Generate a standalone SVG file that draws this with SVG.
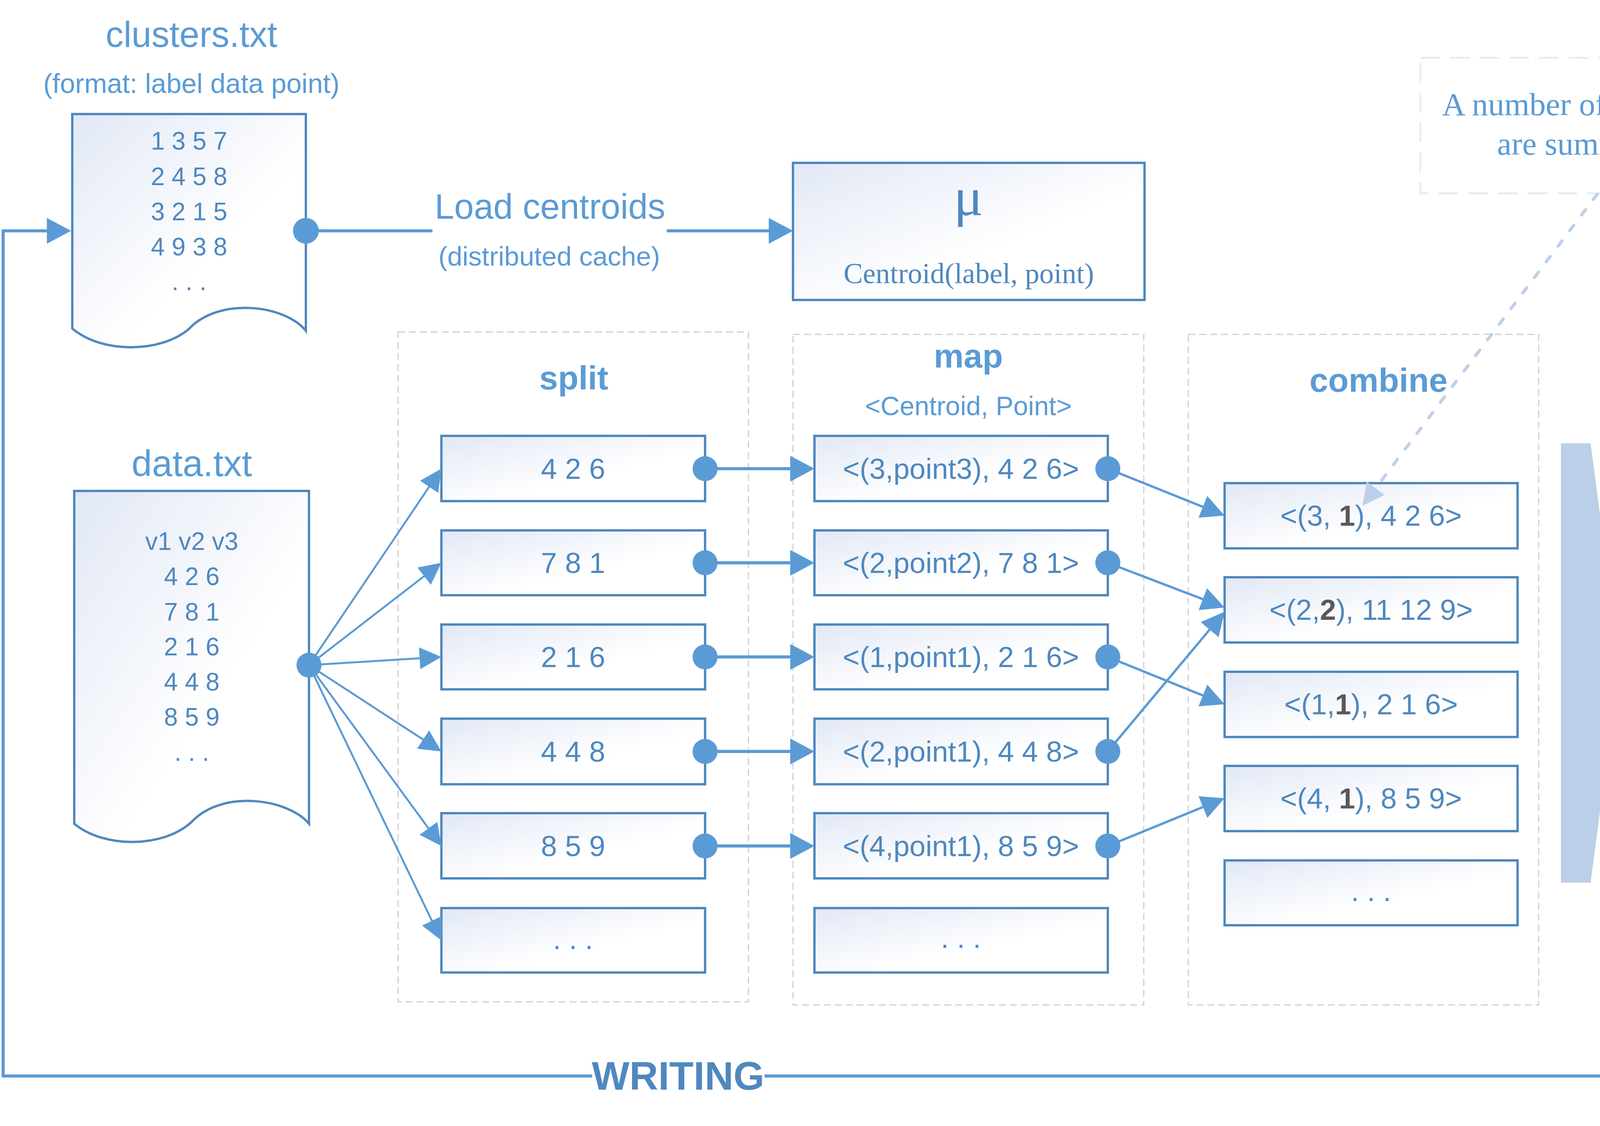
<svg xmlns="http://www.w3.org/2000/svg" width="6108" height="2883" viewBox="0 0 6108 2883">
<style>
text{font-family:"Liberation Sans",Arial,sans-serif;text-anchor:middle}
.lt{fill:#5B9BD5}
.bt{fill:#4F88BE;font-size:74px}
.hd{fill:#5B9BD5;font-size:86px;font-weight:bold}
.sf{font-family:"Liberation Serif","Times New Roman",serif}
.bx{fill:url(#g);stroke:#4F88BE;stroke-width:6}
.doc{fill:url(#g);stroke:#4F88BE;stroke-width:6}
.col{fill:none;stroke:#CFCFCF;stroke-width:3;stroke-dasharray:18 10}
.k{font-weight:bold;fill:#595959}
.c{fill:none;stroke:#5B9BD5;stroke-width:8}
.c5{fill:none;stroke:#5B9BD5;stroke-width:5}
.c6{fill:none;stroke:#5B9BD5;stroke-width:6}
.dot{fill:#5B9BD5}
</style>
<defs>
<linearGradient id="g" x1="0" y1="0" x2="1" y2="1">
<stop offset="0" stop-color="#E1E8F5"/>
<stop offset="0.6" stop-color="#FFFFFF"/>
</linearGradient>
<marker id="ah" markerUnits="userSpaceOnUse" viewBox="0 0 62 66" markerWidth="62" markerHeight="66" refX="27" refY="33" orient="auto"><path d="M0,0L62,33L0,66Z" fill="#5B9BD5"/></marker>
<marker id="ahs" markerUnits="userSpaceOnUse" viewBox="0 0 56 56" markerWidth="56" markerHeight="56" refX="21" refY="28" orient="auto"><path d="M0,0L56,28L0,56Z" fill="#5B9BD5"/></marker>
<marker id="ahm" markerUnits="userSpaceOnUse" viewBox="0 0 60 60" markerWidth="60" markerHeight="60" refX="25" refY="30" orient="auto"><path d="M0,0L60,30L0,60Z" fill="#5B9BD5"/></marker>
<marker id="ahn" markerUnits="userSpaceOnUse" viewBox="0 0 56 57" markerWidth="56" markerHeight="57" refX="21" refY="28.5" orient="auto"><path d="M0,0L56,28.5L0,57Z" fill="#BDD0E9"/></marker>
</defs>
<rect width="6108" height="2883" fill="#FFFFFF"/>

<g id="col-split"><rect class="col" x="1019" y="850" width="897" height="1715"/><text class="hd" x="1469" y="997">split</text></g>
<g id="col-map"><rect class="col" x="2030" y="856" width="898" height="1717"/><text class="hd" x="2479" y="941">map</text><text class="lt" x="2479" y="1063" font-size="68">&lt;Centroid, Point&gt;</text></g>
<g id="col-combine"><rect class="col" x="3042" y="856" width="897" height="1717"/><text class="hd" x="3529" y="1003">combine</text></g>
<g id="col-shuffle"><rect class="col" x="4203" y="857" width="898" height="1717"/><text class="hd" x="4689" y="1004">shuffle &amp; sort</text></g>
<g id="col-reduce"><rect class="col" x="5177" y="857" width="898" height="1717"/><text class="hd" x="5665" y="1004">reduce</text></g>

<g id="clusters">
<text class="lt" x="490" y="120" font-size="92">clusters.txt</text>
<text class="lt" x="490" y="238" font-size="70">(format: label data point)</text>
<path class="doc" d="M185,292 L783,292 L783,847 C730,780 560,760 484,842 C410,905 260,905 185,841 Z"/>
<g class="bt" style="font-size:64px">
<text x="484" y="383">1 3 5 7</text>
<text x="484" y="474">2 4 5 8</text>
<text x="484" y="564">3 2 1 5</text>
<text x="484" y="654">4 9 3 8</text>
<text x="484" y="743">. . .</text>
</g>
</g>

<g id="centroid">
<rect class="bx" x="2030" y="417" width="900" height="351" stroke-width="7"/>
<text class="sf" x="2479" y="551" font-size="140" fill="#4F88BE">μ</text>
<text class="sf" x="2480" y="725" font-size="74" fill="#4F88BE">Centroid(label, point)</text>
</g>

<g id="note">
<rect x="3636" y="148" width="901" height="347" fill="#FFFFFF" stroke="#E6ECF6" stroke-width="5" stroke-dasharray="50 26"/>
<text class="sf lt" x="4086" y="295" font-size="83">A number of points that</text>
<text class="sf lt" x="4086" y="396" font-size="83">are summed up</text>
</g>

<g id="data">
<text class="lt" x="491" y="1219" font-size="94">data.txt</text>
<path class="doc" d="M190,1257 L791,1257 L791,2109 C738,2045 568,2020 490,2105 C416,2172 266,2172 190,2109 Z"/>
<g class="bt" style="font-size:64px">
<text x="491" y="1408">v1 v2 v3</text>
<text x="491" y="1498">4 2 6</text>
<text x="491" y="1589">7 8 1</text>
<text x="491" y="1678">2 1 6</text>
<text x="491" y="1768">4 4 8</text>
<text x="491" y="1858">8 5 9</text>
<text x="491" y="1948">. . .</text>
</g>
</g>

<g id="split1"><rect class="bx" x="1130" y="1116" width="675" height="167"/><text class="bt" x="1467" y="1226">4 2 6</text></g>
<g id="split2"><rect class="bx" x="1130" y="1358" width="675" height="166"/><text class="bt" x="1467" y="1467">7 8 1</text></g>
<g id="split3"><rect class="bx" x="1130" y="1599" width="675" height="166"/><text class="bt" x="1467" y="1708">2 1 6</text></g>
<g id="split4"><rect class="bx" x="1130" y="1840" width="675" height="168"/><text class="bt" x="1467" y="1950">4 4 8</text></g>
<g id="split5"><rect class="bx" x="1130" y="2082" width="675" height="167"/><text class="bt" x="1467" y="2192">8 5 9</text></g>
<g id="split6"><rect class="bx" x="1130" y="2325" width="675" height="165"/><text class="bt" x="1467" y="2430">. . .</text></g>

<g id="map1"><rect class="bx" x="2085" y="1116" width="751" height="167"/><text class="bt" x="2460" y="1226">&lt;(3,point3), 4 2 6&gt;</text></g>
<g id="map2"><rect class="bx" x="2085" y="1358" width="751" height="166"/><text class="bt" x="2460" y="1467">&lt;(2,point2), 7 8 1&gt;</text></g>
<g id="map3"><rect class="bx" x="2085" y="1599" width="751" height="166"/><text class="bt" x="2460" y="1708">&lt;(1,point1), 2 1 6&gt;</text></g>
<g id="map4"><rect class="bx" x="2085" y="1840" width="751" height="168"/><text class="bt" x="2460" y="1950">&lt;(2,point1), 4 4 8&gt;</text></g>
<g id="map5"><rect class="bx" x="2085" y="2082" width="751" height="167"/><text class="bt" x="2460" y="2192">&lt;(4,point1), 8 5 9&gt;</text></g>
<g id="map6"><rect class="bx" x="2085" y="2325" width="751" height="165"/><text class="bt" x="2460" y="2427">. . .</text></g>

<g id="comb1"><rect class="bx" x="3135" y="1237" width="750" height="167"/><text class="bt" x="3510" y="1346">&lt;(3, <tspan class="k">1</tspan>), 4 2 6&gt;</text></g>
<g id="comb2"><rect class="bx" x="3135" y="1478" width="750" height="167"/><text class="bt" x="3510" y="1587">&lt;(2,<tspan class="k">2</tspan>), 11 12 9&gt;</text></g>
<g id="comb3"><rect class="bx" x="3135" y="1720" width="750" height="167"/><text class="bt" x="3510" y="1829">&lt;(1,<tspan class="k">1</tspan>), 2 1 6&gt;</text></g>
<g id="comb4"><rect class="bx" x="3135" y="1961" width="750" height="167"/><text class="bt" x="3510" y="2070">&lt;(4, <tspan class="k">1</tspan>), 8 5 9&gt;</text></g>
<g id="comb5"><rect class="bx" x="3135" y="2203" width="750" height="166"/><text class="bt" x="3510" y="2307">. . .</text></g>

<g id="shuffle-arrow"><polygon points="3996,1135 4072,1135 4146,1697 4072,2260 3996,2260" fill="#BCCFE8"/></g>

<g id="sh1"><rect class="bx" x="4273" y="1095" width="798" height="350"/><text class="bt" x="4672" y="1245">&lt;(1,1), 2 1 6&gt;</text><text class="bt" x="4672" y="1343">&lt;(1,2), 1 3 1&gt;</text></g>
<g id="sh2"><rect class="bx" x="4273" y="1538" width="798" height="168"/><text class="bt" x="4672" y="1648">&lt;(2,2), 11 12 9&gt;</text></g>
<g id="sh3"><rect class="bx" x="4273" y="1799" width="798" height="350"/><text class="bt" x="4672" y="1948">&lt;(3, 1), 4 2 6&gt;</text><text class="bt" x="4672" y="2049">&lt;(3, 4), 12 17 10&gt;</text></g>
<g id="sh4"><rect class="bx" x="4273" y="2242" width="798" height="166"/><text class="bt" x="4672" y="2351">&lt;(4, 1), 8 5 9&gt;</text></g>
<g id="sh5"><text class="bt" x="4667" y="2497">. . .</text></g>

<g id="rd1"><rect class="bx" x="5257" y="1095" width="800" height="350"/><text class="bt" x="5657" y="1296">&lt;1, 3/3 4/3 7/3)&gt;</text></g>
<g id="rd2"><rect class="bx" x="5257" y="1538" width="800" height="168"/><text class="bt" x="5657" y="1648">&lt;2, 11/2 12/2 9/2&gt;</text></g>
<g id="rd3"><rect class="bx" x="5257" y="1799" width="800" height="350"/><text class="bt" x="5657" y="2000">&lt;3, 16/5 19/5 16/5&gt;</text></g>
<g id="rd4"><rect class="bx" x="5257" y="2242" width="800" height="166"/><text class="bt" x="5657" y="2351">&lt;4, 8/1 5/1 9/1&gt;</text></g>
<g id="rd5"><text class="bt" x="5621" y="2505">. . .</text></g>

<g id="connectors">
<path class="c" d="M783,591 H1107"/>
<path class="c" d="M1707,591 H1995" marker-end="url(#ah)"/>
<text class="lt" x="1408" y="560" font-size="90">Load centroids</text>
<text class="lt" x="1406" y="680" font-size="69">(distributed cache)</text>
<path class="c5" d="M791,1703 L1110.4,1229" marker-end="url(#ahs)"/>
<path class="c5" d="M791,1703 L1102.3,1462.4" marker-end="url(#ahs)"/>
<path class="c5" d="M791,1703 L1095.1,1684.2" marker-end="url(#ahs)"/>
<path class="c5" d="M791,1703 L1100.7,1904.9" marker-end="url(#ahs)"/>
<path class="c5" d="M791,1703 L1109.3,2137.8" marker-end="url(#ahs)"/>
<path class="c5" d="M791,1703 L1114.8,2376.5" marker-end="url(#ahs)"/>
<path class="c" d="M1805,1200 H2050" marker-end="url(#ah)"/>
<path class="c" d="M1805,1441 H2050" marker-end="url(#ah)"/>
<path class="c" d="M1805,1682 H2050" marker-end="url(#ah)"/>
<path class="c" d="M1805,1924 H2050" marker-end="url(#ah)"/>
<path class="c" d="M1805,2166 H2050" marker-end="url(#ah)"/>
<path class="c6" d="M2836,1200 L3102.5,1307" marker-end="url(#ahm)"/>
<path class="c6" d="M2836,1441 L3102.5,1543" marker-end="url(#ahm)"/>
<path class="c6" d="M2836,1682 L3102.5,1790" marker-end="url(#ahm)"/>
<path class="c6" d="M2836,1924 L3112.6,1593" marker-end="url(#ahm)"/>
<path class="c6" d="M2836,2166 L3102.6,2057" marker-end="url(#ahm)"/>
<path class="c" d="M5071,1270 H5222" marker-end="url(#ah)"/>
<path class="c" d="M5071,1622 H5222" marker-end="url(#ah)"/>
<path class="c" d="M5071,1974 H5222" marker-end="url(#ah)"/>
<path class="c" d="M5071,2325 H5222" marker-end="url(#ah)"/>
<path d="M4089,497 L3509,1267" fill="none" stroke="#BDD0E9" stroke-width="8" stroke-linecap="round" stroke-dasharray="17 33" marker-end="url(#ahn)"/>
<path class="c" d="M5627,2573 V2755 H1957" stroke-linejoin="round"/>
<path class="c" d="M1516,2755 H8 V591 H147" stroke-linejoin="round" marker-end="url(#ah)"/>
<text x="1736" y="2790" font-size="102" font-weight="bold" fill="#4F88BE">WRITING</text>
<circle class="dot" cx="783" cy="591" r="33"/>
<circle class="dot" cx="791" cy="1703" r="32"/>
<circle class="dot" cx="1805" cy="1200" r="32"/>
<circle class="dot" cx="1805" cy="1441" r="32"/>
<circle class="dot" cx="1805" cy="1682" r="32"/>
<circle class="dot" cx="1805" cy="1924" r="32"/>
<circle class="dot" cx="1805" cy="2166" r="32"/>
<circle class="dot" cx="2836" cy="1200" r="32"/>
<circle class="dot" cx="2836" cy="1441" r="32"/>
<circle class="dot" cx="2836" cy="1682" r="32"/>
<circle class="dot" cx="2836" cy="1924" r="32"/>
<circle class="dot" cx="2836" cy="2166" r="32"/>
<circle class="dot" cx="5071" cy="1270" r="33"/>
<circle class="dot" cx="5071" cy="1622" r="33"/>
<circle class="dot" cx="5071" cy="1974" r="33"/>
<circle class="dot" cx="5071" cy="2325" r="33"/>
</g>
</svg>
